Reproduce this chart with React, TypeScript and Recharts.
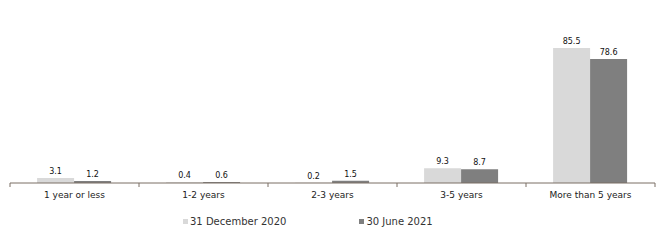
import React from "react";
import { BarChart, Bar, XAxis, YAxis, Legend, LabelList } from "recharts";

const categories = ["1 year or less", "1-2 years", "2-3 years", "3-5 years", "More than 5 years"];
const seriesNames = ["31 December 2020", "30 June 2021"];
const dec2020 = [3.1, 0.4, 0.2, 9.3, 85.5];
const jun2021 = [1.2, 0.6, 1.5, 8.7, 78.6];

const data = categories.map((name, i) => ({ name, dec2020: dec2020[i], jun2021: jun2021[i] }));

const FONT = "'DejaVu Sans', Verdana, sans-serif";
const AXIS_COLOR = "#7a6e64";

function CategoryTick(props: any) {
  const { x, y, payload, index, visibleTicksCount, width } = props;
  const half = payload.offset || width / visibleTicksCount / 2;
  const last = index === visibleTicksCount - 1;
  return (
    <g>
      <line x1={x - half} x2={x - half} y1={y} y2={y + 4} stroke={AXIS_COLOR} />
      {last && <line x1={x + half} x2={x + half} y1={y} y2={y + 4} stroke={AXIS_COLOR} />}
      <text x={x} y={y + 15} textAnchor="middle" fontSize={9} fontFamily={FONT} fill="#222">
        {payload.value}
      </text>
    </g>
  );
}

function LegendContent(props: any) {
  const items = [...(props.payload || [])].sort(
    (a: any, b: any) => seriesNames.indexOf(a.value) - seriesNames.indexOf(b.value)
  );
  return (
    <div style={{ display: "flex", fontFamily: FONT, fontSize: 10, color: "#333" }}>
      {items.map((p: any, i: number) => (
        <div key={p.value} style={{ display: "flex", alignItems: "center", marginRight: i === 0 ? 73 : 0 }}>
          <span style={{ width: 5, height: 5, background: p.color, marginRight: 2, display: "inline-block" }} />
          <span>{p.value}</span>
        </div>
      ))}
    </div>
  );
}

export default function App() {
  return (
    <div style={{ position: "absolute", left: 0, top: 0, background: "#fff" }}>
      <BarChart
        width={664}
        height={241}
        data={data}
        margin={{ top: 41, right: 9, left: 10, bottom: 25 }}
        barCategoryGap="21%"
        barGap={0}
      >
        <XAxis
          dataKey="name"
          axisLine={{ stroke: AXIS_COLOR }}
          tickLine={false}
          tickSize={0}
          tickMargin={0}
          height={33}
          interval={0}
          tick={<CategoryTick />}
        />
        <YAxis hide domain={[0, 90]} />
        <Legend
          verticalAlign="middle"
          content={<LegendContent />}
          wrapperStyle={{ position: "absolute", top: 216, left: 183, width: 400, height: 14 }}
        />
        <Bar dataKey="dec2020" name={seriesNames[0]} fill="#d9d9d9" isAnimationActive={false}>
          <LabelList dataKey="dec2020" position="top" offset={4} fontSize={8} fontFamily={FONT} fill="#111" />
        </Bar>
        <Bar dataKey="jun2021" name={seriesNames[1]} fill="#7f7f7f" isAnimationActive={false}>
          <LabelList dataKey="jun2021" position="top" offset={4} fontSize={8} fontFamily={FONT} fill="#111" />
        </Bar>
      </BarChart>
    </div>
  );
}
